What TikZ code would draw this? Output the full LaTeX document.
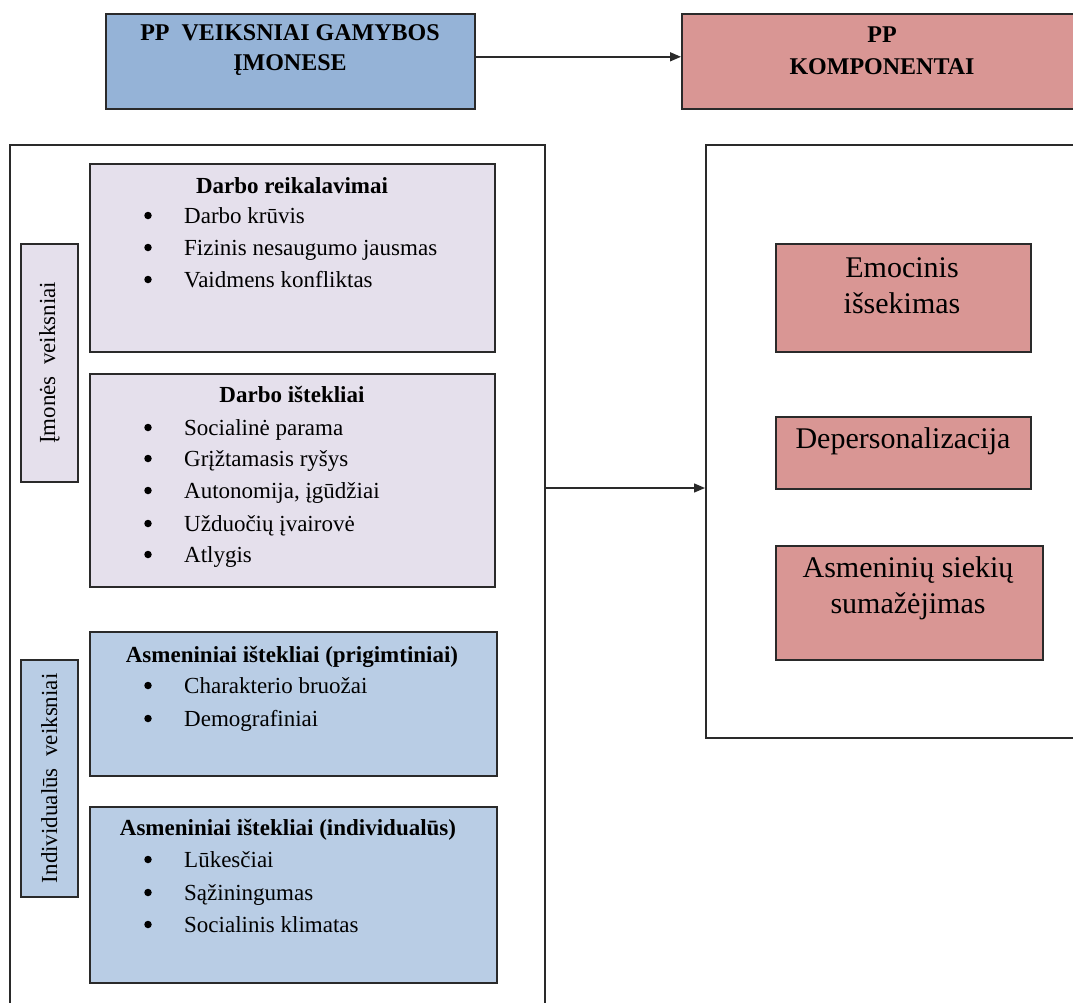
\documentclass[tikz,border=0pt]{standalone}
\usepackage{fontspec}
\setmainfont{Liberation Serif}
\usetikzlibrary{arrows.meta}
\definecolor{topblue}{HTML}{95B3D7}
\definecolor{rosebox}{HTML}{D99694}
\definecolor{lav}{HTML}{E5E0EC}
\definecolor{lblue}{HTML}{B9CDE5}
\definecolor{edge}{HTML}{2A2A2A}
\begin{document}
\begin{tikzpicture}[x=1pt,y=-1pt,
  box/.style={draw=edge, line width=1.6pt, rectangle, inner sep=0pt, anchor=north west},
  txt/.style={inner sep=0pt, anchor=base west, font=\fontsize{23}{28}\selectfont},
  head/.style={inner sep=0pt, anchor=base, font=\fontsize{23}{28}\selectfont\bfseries},
  ttl/.style={inner sep=0pt, anchor=base, font=\fontsize{24}{28}\selectfont\bfseries},
  big/.style={inner sep=0pt, anchor=base, font=\fontsize{30}{34}\selectfont},
  bul/.style={circle, fill=black, inner sep=0pt, minimum size=7.5pt, yshift=7.5pt},
  vlab/.style={inner sep=0pt, rotate=90, font=\fontsize{23}{28}\selectfont},
  conn/.style={draw=edge, line width=1.4pt, -{Triangle[length=11pt,width=9pt]}}
]
\useasboundingbox[fill=white] (0,0) rectangle (1073,1002);

% top boxes
\node[box, fill=topblue, minimum width=369pt, minimum height=95pt] (t1) at (105,13) {};
\node[box, fill=rosebox, minimum width=410pt, minimum height=95pt] (t2) at (681,13) {};
\node[ttl] (t1a) at (290,40) {PP\ \ VEIKSNIAI GAMYBOS};
\node[ttl] (t1b) at (290,70) {ĮMONESE};
\node[ttl] (t2a) at (882,42) {PP};
\node[ttl] (t2b) at (882,74) {KOMPONENTAI};
\draw[conn] ([yshift=4.5pt]t1.east) -- ([yshift=4.5pt]t2.west);

% big containers
\node[box, minimum width=535pt, minimum height=890pt] (L) at (9,144) {};
\node[box, minimum width=400pt, minimum height=593pt] (R) at (705,144) {};
\coordinate (a2) at (544,488);
\draw[conn] (a2) -- (R.west |- a2);

% side labels
\node[box, fill=lav, minimum width=57pt, minimum height=238pt] (imL) at (20,243) {};
\node[vlab] (imT) at (imL.center) {Įmonės\ \ veiksniai};
\node[box, fill=lblue, minimum width=57pt, minimum height=237pt] (inL) at (20,659) {};
\node[vlab] (inT) at (inL.center) {Individualūs\ \ veiksniai};

% Darbo reikalavimai
\node[box, fill=lav, minimum width=405pt, minimum height=188pt] (dr) at (89,163) {};
\node[head] (drh) at (292,193) {Darbo reikalavimai};
\node[bul] (drb1) at (148,223) {}; \node[txt] (dr1) at (184,223) {Darbo krūvis};
\node[bul] (drb2) at (148,255) {}; \node[txt] (dr2) at (184,255) {Fizinis nesaugumo jausmas};
\node[bul] (drb3) at (148,287) {}; \node[txt] (dr3) at (184,287) {Vaidmens konfliktas};

% Darbo ištekliai
\node[box, fill=lav, minimum width=405pt, minimum height=213pt] (di) at (89,373) {};
\node[head] (dih) at (292,402) {Darbo ištekliai};
\node[bul] (dib1) at (148,435) {}; \node[txt] (di1) at (184,435) {Socialinė parama};
\node[bul] (dib2) at (148,466) {}; \node[txt] (di2) at (184,466) {Grįžtamasis ryšys};
\node[bul] (dib3) at (148,498) {}; \node[txt] (di3) at (184,498) {Autonomija, įgūdžiai};
\node[bul] (dib4) at (148,531) {}; \node[txt] (di4) at (184,531) {Užduočių įvairovė};
\node[bul] (dib5) at (148,562) {}; \node[txt] (di5) at (184,562) {Atlygis};

% Asmeniniai ištekliai (prigimtiniai)
\node[box, fill=lblue, minimum width=407pt, minimum height=144pt] (ap) at (89,631) {};
\node[head] (aph) at (292,662) {Asmeniniai ištekliai (prigimtiniai)};
\node[bul] (apb1) at (148,693) {}; \node[txt] (ap1) at (184,693) {Charakterio bruožai};
\node[bul] (apb2) at (148,726) {}; \node[txt] (ap2) at (184,726) {Demografiniai};

% Asmeniniai ištekliai (individualūs)
\node[box, fill=lblue, minimum width=407pt, minimum height=176pt] (ai) at (89,806) {};
\node[head] (aih) at (288,835) {Asmeniniai ištekliai (individualūs)};
\node[bul] (aib1) at (148,867) {}; \node[txt] (ai1) at (184,867) {Lūkesčiai};
\node[bul] (aib2) at (148,900) {}; \node[txt] (ai2) at (184,900) {Sąžiningumas};
\node[bul] (aib3) at (148,932) {}; \node[txt] (ai3) at (184,932) {Socialinis klimatas};

% PP components
\node[box, fill=rosebox, minimum width=255pt, minimum height=108pt] (em) at (775,243) {};
\node[big] (em1) at (902,277) {Emocinis};
\node[big] (em2) at (902,313) {išsekimas};
\node[box, fill=rosebox, minimum width=255pt, minimum height=72pt] (dp) at (775,416) {};
\node[big] (dp1) at (903,448) {Depersonalizacija};
\node[box, fill=rosebox, minimum width=267pt, minimum height=114pt] (as) at (775,545) {};
\node[big] (as1) at (908,577) {Asmeninių siekių};
\node[big] (as2) at (908,613) {sumažėjimas};
\end{tikzpicture}
\end{document}
